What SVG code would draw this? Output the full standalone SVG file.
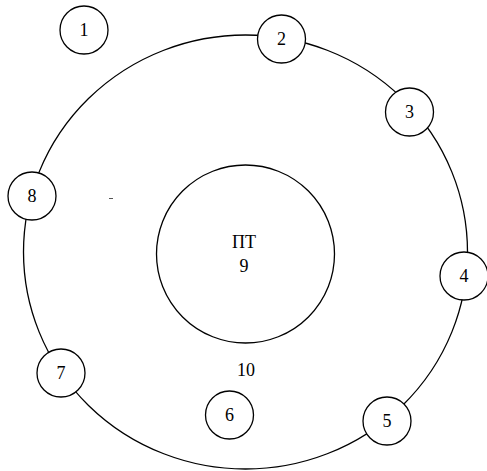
<svg xmlns="http://www.w3.org/2000/svg" width="487" height="471" viewBox="0 0 487 471">
<style>
.c{fill:#fff;stroke:#000;stroke-width:1.3}
.t{font-family:"Liberation Serif","Times New Roman",serif;font-size:18px;text-anchor:middle;fill:#000}
</style>
<rect width="487" height="471" fill="#fff"/>
<g id="connectors">
<ellipse cx="245.5" cy="252" rx="222" ry="217" fill="none" stroke="#000" stroke-width="1.3"/>
<line x1="109" y1="198.5" x2="113" y2="198.5" stroke="#555" stroke-width="1"/>
</g>
<g id="n9"><circle class="c" cx="245.5" cy="254" r="89"/><text class="t" x="244" y="248">ПТ</text><text class="t" x="244" y="272">9</text></g>
<g id="n10"><text class="t" x="246" y="376">10</text></g>
<g id="n1"><circle class="c" cx="84" cy="30" r="24"/><text class="t" x="84" y="36">1</text></g>
<g id="n2"><circle class="c" cx="281.5" cy="39" r="24"/><text class="t" x="281.5" y="45">2</text></g>
<g id="n3"><circle class="c" cx="409.5" cy="112" r="24"/><text class="t" x="409.5" y="118">3</text></g>
<g id="n4"><circle class="c" cx="464" cy="276" r="24"/><text class="t" x="464" y="282">4</text></g>
<g id="n5"><circle class="c" cx="387" cy="421" r="24"/><text class="t" x="387" y="427">5</text></g>
<g id="n6"><circle class="c" cx="229.5" cy="415" r="24"/><text class="t" x="229.5" y="421">6</text></g>
<g id="n7"><circle class="c" cx="61" cy="373" r="24"/><text class="t" x="61" y="379">7</text></g>
<g id="n8"><circle class="c" cx="32" cy="196" r="24"/><text class="t" x="32" y="202">8</text></g>
</svg>
